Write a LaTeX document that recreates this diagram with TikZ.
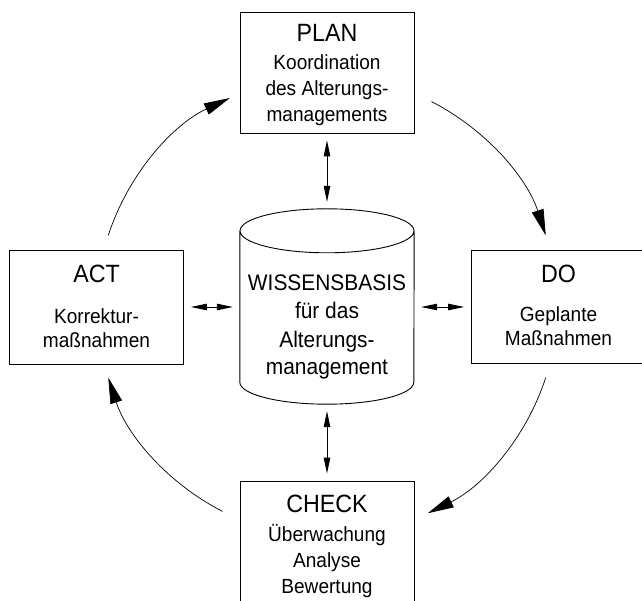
\documentclass[tikz,border=0pt]{standalone}
\usepackage{fontspec}
\setmainfont[FakeStretch=0.93]{Liberation Sans}
\usetikzlibrary{arrows.meta}
\newcommand{\titlesize}{\fontsize{25}{30}\selectfont}
\newcommand{\bodysize}{\fontsize{20.5}{26}\selectfont}
\newcommand{\kbsize}{\fontsize{22.5}{28}\selectfont}

\begin{document}
\begin{tikzpicture}[x=1pt, y=1pt,
    box/.style = {draw, line width=0.9pt, align=center, font=\bodysize, inner sep=0pt, minimum width=174pt},
    cyc/.style = {-{Triangle[length=26pt, width=12pt]}, line width=0.7pt},
    link/.style = {{Triangle[length=16pt, width=6.5pt]}-{Triangle[length=16pt, width=6.5pt]}, line width=0.9pt, shorten <=7pt, shorten >=7pt}]
    \useasboundingbox (0,0) rectangle (642,600);
    \clip (0,0) rectangle (642,600);

    \node [align=center, font=\kbsize, inner sep=0pt, minimum width=174pt, minimum height=195pt, text height=142pt, text depth=5pt] (kb) at (327,293.5)
        {WISSENSBASIS\\für das\\Alterungs-\\management};
    \draw [line width=0.9pt]
        ([yshift=-22pt]kb.north west) -- ([yshift=22pt]kb.south west)
        arc [start angle=180, end angle=360, x radius=87pt, y radius=22pt]
        -- ([yshift=-22pt]kb.north east)
        ([yshift=-22pt]kb.north) ellipse [x radius=87pt, y radius=22pt];

    \node [box, minimum height=121pt, text height=104pt, text depth=5pt] (plan) at (327,527.5)
        {{\titlesize PLAN}\\[2pt]Koordination\\des Alterungs-\\managements};
    \node [box, minimum height=114pt, text height=82pt, text depth=2pt] (act) at (96.5,293)
        {{\titlesize ACT}\\[14pt]Korrektur-\\[-2pt]maßnahmen};
    \node [box, minimum height=113pt, text height=79pt, text depth=2pt] (do) at (558.5,293)
        {{\titlesize DO}\\[13pt]Geplante\\[-2pt]Maßnahmen};
    \node [box, minimum height=121pt, text height=108pt, text depth=5pt] (check) at (327,58.5)
        {{\titlesize CHECK}\\[3pt]Überwachung\\Analyse\\Bewertung};

    \draw [link] (plan.south) -- (kb.north);
    \draw [link] (kb.south) -- (check.north);
    \draw [link] (act.east) -- (act.east -| kb.west);
    \draw [link] (do.west -| kb.east) -- (do.west);

    \coordinate (hub) at (kb.center);
    \foreach \from/\to in {63/18, -18/-64, -117/-162, 162/115}
        \draw [cyc] ([shift={(\from:230)}]hub) arc [start angle=\from, end angle=\to, radius=230pt];
\end{tikzpicture}
\end{document}
